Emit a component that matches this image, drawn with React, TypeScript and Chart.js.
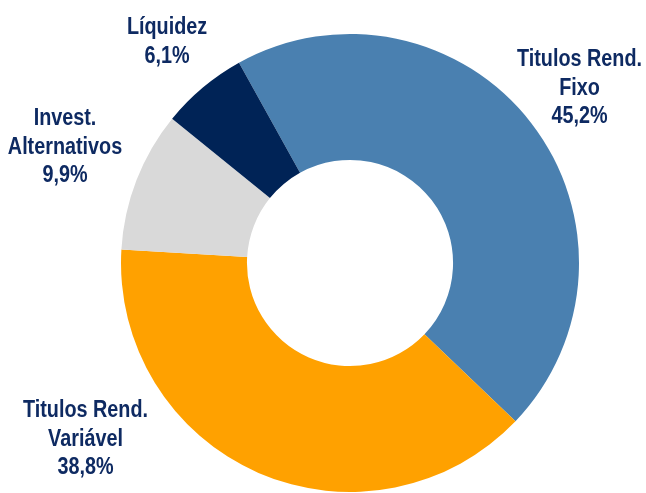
import React, { useEffect, useRef } from "react";
import { Chart, registerables } from "chart.js";

Chart.register(...registerables);

const categories = ["Titulos Rend. Fixo", "Titulos Rend. Variável", "Invest. Alternativos", "Líquidez"];
const labelLines = [["Titulos Rend.", "Fixo"], ["Titulos Rend.", "Variável"], ["Invest.", "Alternativos"], ["Líquidez"]];
const shares = [45.2, 38.8, 9.9, 6.1];
const colors = ["#4A80B0", "#FFA100", "#D9D9D9", "#002356"];

// label anchor offsets (px) from the doughnut centre: [dx, first-baseline dy]
const labelOffsets = [
  [229.5, -197],
  [-264.5, 154],
  [-285, -138],
  [-183, -229],
];

const fmt = (v: number) => v.toFixed(1).replace(".", ",") + "%";

const labelPlugin = {
  id: "outerLabels",
  afterDraw(chart: any) {
    const ctx = chart.ctx;
    const meta = chart.getDatasetMeta(0);
    ctx.save();
    ctx.font = "bold 23px 'Liberation Sans', Arial, sans-serif";
    ctx.fillStyle = "#0E2A62";
    ctx.textAlign = "center";
    ctx.textBaseline = "alphabetic";
    meta.data.forEach((arc: any, i: number) => {
      const lines = [...labelLines[i], fmt(shares[i])];
      const [dx, dy] = labelOffsets[i];
      lines.forEach((t, j) => {
        ctx.save();
        ctx.translate(arc.x + dx, arc.y + dy + j * 28.5);
        ctx.scale(0.86, 1);
        ctx.fillText(t, 0, 0);
        ctx.restore();
      });
    });
    ctx.restore();
  },
};

export default function App() {
  const ref = useRef<HTMLCanvasElement>(null);
  useEffect(() => {
    if (!ref.current) return;
    const chart = new Chart(ref.current, {
      type: "doughnut",
      data: {
        labels: categories,
        datasets: [
          {
            data: shares,
            backgroundColor: colors,
            borderWidth: 0,
          },
        ],
      },
      options: {
        responsive: false,
        animation: false,
        rotation: -29,
        cutout: "45%",
        layout: { padding: { top: 34, bottom: 1, left: 121, right: 67 } },
        plugins: {
          legend: { display: false },
          tooltip: { enabled: false },
        },
      },
      plugins: [labelPlugin],
    });
    return () => chart.destroy();
  }, []);
  return (
    <div style={{ position: "absolute", left: 0, top: 0, width: 646, height: 493, background: "#fff" }}>
      <canvas ref={ref} width={646} height={493} />
    </div>
  );
}
